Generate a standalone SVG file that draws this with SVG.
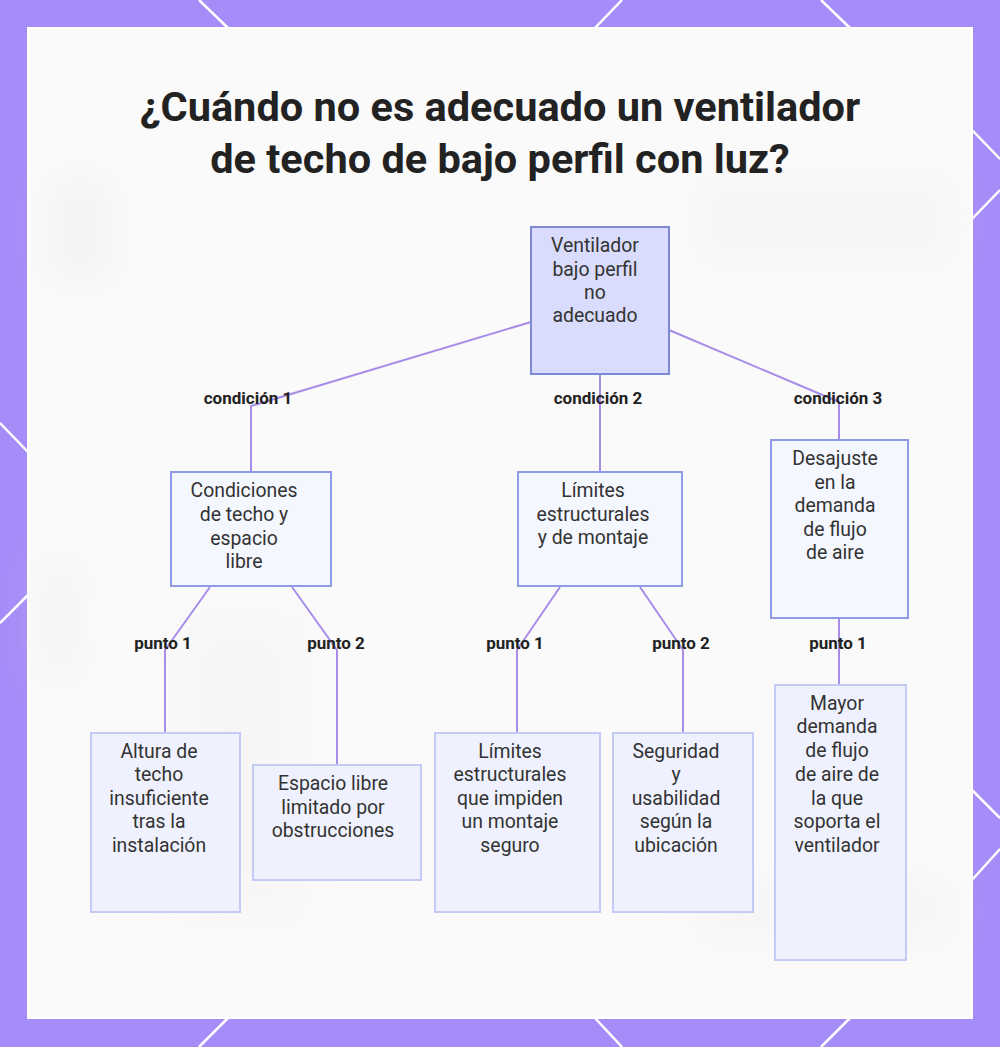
<svg xmlns="http://www.w3.org/2000/svg" width="1000" height="1047" viewBox="0 0 1000 1047">
  <defs>
    <style>
      .title{font-family:Roboto,"Liberation Sans",sans-serif;font-weight:700;font-size:41.5px;fill:#222;text-anchor:middle}
      .nt{font-family:Roboto,"Liberation Sans",sans-serif;font-size:19.4px;fill:#333;text-anchor:middle}
      .lbl{font-family:Roboto,"Liberation Sans",sans-serif;font-weight:700;font-size:17px;fill:#222;text-anchor:middle}
      .root{fill:#d9dcfc;stroke:#7c88d8;stroke-width:2}
      .mid{fill:#f5f7ff;stroke:#8f9be6;stroke-width:2}
      .leaf{fill:#eff2fe;stroke:#c3caf3;stroke-width:2}
      .edge{fill:none;stroke:#a88de8;stroke-width:2}
      .deco{stroke:#ffffff;stroke-width:2.5}
    </style>
    <filter id="blur" x="-50%" y="-50%" width="200%" height="200%"><feGaussianBlur stdDeviation="18"/></filter>
  </defs>
  <rect x="0" y="0" width="1000" height="1047" fill="#a68cf8"/>
  <g class="deco">
    <line x1="199" y1="0" x2="228" y2="28"/>
    <line x1="622" y1="0" x2="595" y2="28"/>
    <line x1="821" y1="0" x2="850" y2="28"/>
    <line x1="228" y1="1018" x2="199" y2="1047"/>
    <line x1="595" y1="1018" x2="622" y2="1047"/>
    <line x1="850" y1="1018" x2="821" y2="1047"/>
    <line x1="0" y1="423" x2="28" y2="452"/>
    <line x1="28" y1="595" x2="0" y2="623"/>
    <line x1="972" y1="130" x2="1000" y2="159"/>
    <line x1="1000" y1="190" x2="972" y2="219"/>
    <line x1="972" y1="790" x2="1000" y2="818"/>
    <line x1="1000" y1="849" x2="972" y2="880"/>
  </g>
  <rect x="28" y="28" width="944" height="990" fill="#fafafa" stroke="#ffffff" stroke-width="2"/>
  <g filter="url(#blur)" opacity="0.3">
    <rect x="50" y="180" width="60" height="100" fill="#e2e4e6"/>
    <rect x="40" y="560" width="40" height="120" fill="#e6e8ea"/>
    <rect x="700" y="180" width="250" height="80" fill="#ececec"/>
    <rect x="180" y="620" width="120" height="300" fill="#efefef"/>
    <rect x="700" y="880" width="250" height="60" fill="#ececec"/>
  </g>
  <circle cx="921" cy="968" r="43" fill="none" stroke="#ffffff" stroke-width="1" stroke-dasharray="2 2" opacity="0.8"/>

  <text class="title" x="500" y="121">¿Cuándo no es adecuado un ventilador</text>
  <text class="title" x="500" y="173">de techo de bajo perfil con luz?</text>

  <g id="connectors">
    <polyline class="edge" points="531,322 251,406 251,472"/>
    <line class="edge" x1="600" y1="374" x2="600" y2="472"/>
    <polyline class="edge" points="669,330 839,402 839,440"/>
    <polyline class="edge" points="210,587 165,650 165,733"/>
    <polyline class="edge" points="292,587 337,650 337,765"/>
    <polyline class="edge" points="560,587 517,650 517,733"/>
    <polyline class="edge" points="640,587 683,650 683,733"/>
    <line class="edge" x1="839" y1="618" x2="839" y2="685"/>
    <text class="lbl" x="248" y="404">condición 1</text>
    <text class="lbl" x="598" y="404">condición 2</text>
    <text class="lbl" x="838" y="404">condición 3</text>
    <text class="lbl" x="163" y="649">punto 1</text>
    <text class="lbl" x="336" y="649">punto 2</text>
    <text class="lbl" x="515" y="649">punto 1</text>
    <text class="lbl" x="681" y="649">punto 2</text>
    <text class="lbl" x="838" y="649">punto 1</text>
  </g>

  <g id="root">
    <rect class="root" x="531" y="227" width="138" height="147"/>
    <text class="nt" x="595" y="252">Ventilador</text>
    <text class="nt" x="595" y="276">bajo perfil</text>
    <text class="nt" x="595" y="299">no</text>
    <text class="nt" x="595" y="322">adecuado</text>
  </g>
  <g id="cond1">
    <rect class="mid" x="171" y="472" width="160" height="114"/>
    <text class="nt" x="244" y="497">Condiciones</text>
    <text class="nt" x="244" y="521">de techo y</text>
    <text class="nt" x="244" y="545">espacio</text>
    <text class="nt" x="244" y="568">libre</text>
  </g>
  <g id="cond2">
    <rect class="mid" x="518" y="472" width="164" height="114"/>
    <text class="nt" x="593" y="497">Límites</text>
    <text class="nt" x="593" y="521">estructurales</text>
    <text class="nt" x="593" y="544">y de montaje</text>
  </g>
  <g id="cond3">
    <rect class="mid" x="771" y="440" width="137" height="178"/>
    <text class="nt" x="835" y="465">Desajuste</text>
    <text class="nt" x="835" y="489">en la</text>
    <text class="nt" x="835" y="512">demanda</text>
    <text class="nt" x="835" y="536">de flujo</text>
    <text class="nt" x="835" y="559">de aire</text>
  </g>
  <g id="leaf1">
    <rect class="leaf" x="91" y="733" width="149" height="179"/>
    <text class="nt" x="159" y="758">Altura de</text>
    <text class="nt" x="159" y="781">techo</text>
    <text class="nt" x="159" y="805">insuficiente</text>
    <text class="nt" x="159" y="828">tras la</text>
    <text class="nt" x="159" y="852">instalación</text>
  </g>
  <g id="leaf2">
    <rect class="leaf" x="253" y="765" width="168" height="115"/>
    <text class="nt" x="333" y="790">Espacio libre</text>
    <text class="nt" x="333" y="814">limitado por</text>
    <text class="nt" x="333" y="837">obstrucciones</text>
  </g>
  <g id="leaf3">
    <rect class="leaf" x="435" y="733" width="165" height="179"/>
    <text class="nt" x="510" y="758">Límites</text>
    <text class="nt" x="510" y="781">estructurales</text>
    <text class="nt" x="510" y="805">que impiden</text>
    <text class="nt" x="510" y="828">un montaje</text>
    <text class="nt" x="510" y="852">seguro</text>
  </g>
  <g id="leaf4">
    <rect class="leaf" x="613" y="733" width="140" height="179"/>
    <text class="nt" x="676" y="758">Seguridad</text>
    <text class="nt" x="676" y="781">y</text>
    <text class="nt" x="676" y="805">usabilidad</text>
    <text class="nt" x="676" y="828">según la</text>
    <text class="nt" x="676" y="852">ubicación</text>
  </g>
  <g id="leaf5">
    <rect class="leaf" x="775" y="685" width="131" height="275"/>
    <text class="nt" x="837" y="710">Mayor</text>
    <text class="nt" x="837" y="733">demanda</text>
    <text class="nt" x="837" y="757">de flujo</text>
    <text class="nt" x="837" y="781">de aire de</text>
    <text class="nt" x="837" y="805">la que</text>
    <text class="nt" x="837" y="828">soporta el</text>
    <text class="nt" x="837" y="852">ventilador</text>
  </g>
</svg>
